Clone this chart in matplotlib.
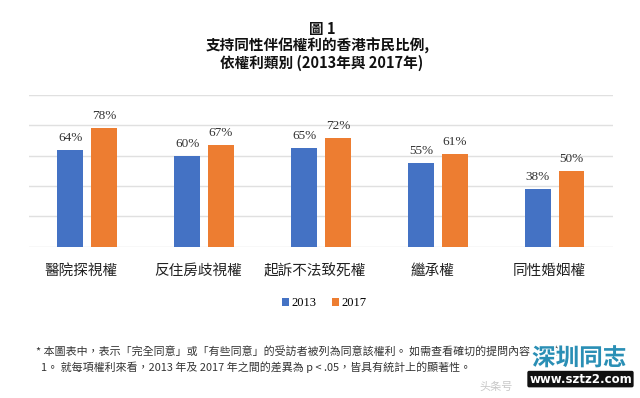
import matplotlib.pyplot as plt
import matplotlib.patheffects as pe
import numpy as np

plt.rcParams['font.family'] = ['Noto Sans CJK TC', 'DejaVu Sans']

categories = ['醫院探視權', '反住房歧視權', '起訴不法致死權', '繼承權', '同性婚姻權']
vals_2013 = [64, 60, 65, 55, 38]
vals_2017 = [78, 67, 72, 61, 50]
series_names = ['2013', '2017']
colors = ['#4472C4', '#ED7D31']

title_lines = ['圖 1', '支持同性伴侶權利的香港市民比例,', '依權利類別 (2013年與 2017年)']
note_1 = '* 本圖表中，表示「完全同意」或「有些同意」的受訪者被列為同意該權利。 如需查看確切的提問內容，請參閱附錄'
note_2 = '  1。 就每項權利來看，2013 年及 2017 年之間的差異為 p < .05，皆具有統計上的顯著性。'

fig = plt.figure(figsize=(6.4, 3.98), dpi=100)
ax = fig.add_axes([0.045, 0.380, 0.913, 0.381])

x = np.arange(len(categories))
w = 0.22
off = 0.145
b1 = ax.bar(x - off, vals_2013, w, color=colors[0], label=series_names[0])
b2 = ax.bar(x + off, vals_2017, w, color=colors[1], label=series_names[1])

for bars in (b1, b2):
    for r in bars:
        ax.text(r.get_x() + r.get_width() / 2, r.get_height() + 4, '%d%%' % r.get_height(),
                ha='center', va='bottom', fontsize=9.5, family='Liberation Serif', color='#333333')

ax.set_xlim(-0.5, len(categories) - 0.5)
ax.set_ylim(0, 100)
ax.set_yticks([0, 20, 40, 60, 80, 100])
ax.yaxis.grid(True, color='#e0e0e0', linewidth=1)
ax.set_axisbelow(True)
ax.tick_params(axis='y', left=False, labelleft=False)
ax.tick_params(axis='x', bottom=False, pad=9)
ax.set_xticks(x - 0.05)
ax.set_xticklabels(categories, fontsize=10.5, color='#222222')
for s in ax.spines.values():
    s.set_visible(False)

# title
fig.text(0.503, 0.928, title_lines[0], ha='center', va='center', fontsize=10.5, fontweight='bold', color='#111111')
fig.text(0.497, 0.885, title_lines[1], ha='center', va='center', fontsize=10.5, fontweight='bold', color='#111111')
fig.text(0.502, 0.843, title_lines[2], ha='center', va='center', fontsize=10.5, fontweight='bold', color='#111111')

leg = fig.legend(handles=[b1, b2], loc='center', bbox_to_anchor=(0.507, 0.238), ncol=2, frameon=False,
                 handlelength=0.6, handleheight=0.6, handletextpad=0.2, columnspacing=1.2,
                 prop={'family': 'Liberation Serif', 'size': 9})

fig.text(0.057, 0.115, note_1, ha='left', va='center', fontsize=7.9, color='#333333')
fig.text(0.057, 0.077, note_2, ha='left', va='center', fontsize=7.9, color='#333333')

# watermark
fig.text(0.905, 0.10, '深圳同志', ha='center', va='center', fontsize=17, fontweight='bold', color='#2a8fb5',
         path_effects=[pe.withStroke(linewidth=2.5, foreground='white')])
fig.text(0.775, 0.028, '头条号', ha='center', va='center', fontsize=8, color='#c8c8c8')
fig.text(0.907, 0.0475, 'www.sztz2.com', ha='center', va='center', fontsize=8.5, fontweight='bold',
         color='white', family='DejaVu Sans',
         bbox=dict(boxstyle='round,pad=0.15', fc='#111111', ec='none'))

fig.savefig('out.png', dpi=100, facecolor='white')
